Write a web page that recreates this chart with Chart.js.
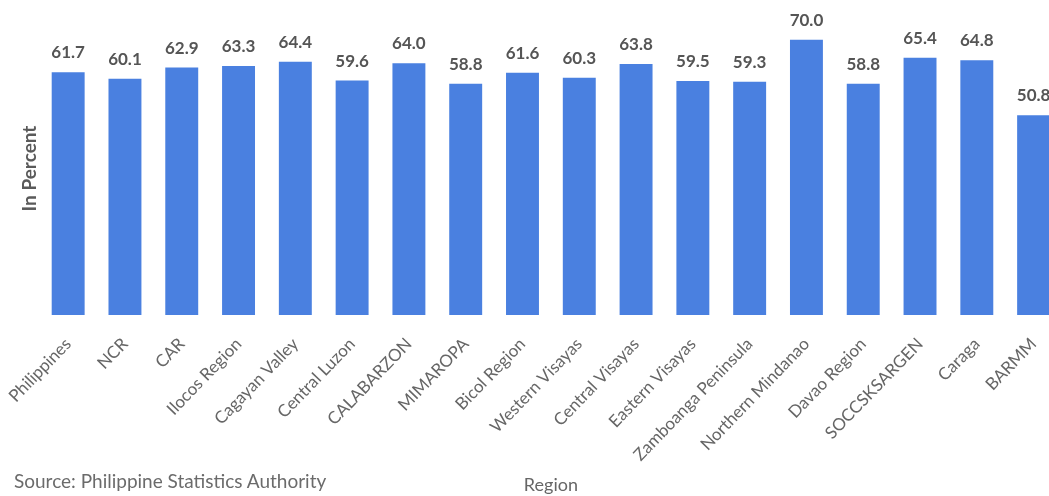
<!DOCTYPE html>
<html>
<head>
<meta charset="utf-8">
<script src="https://cdn.jsdelivr.net/npm/chart.js@4.4.1/dist/chart.umd.min.js"></script>
<style>
  html, body { margin: 0; padding: 0; background: #fff; overflow: hidden; width: 1049px; height: 496px; }
  #wrap { position: absolute; left: 0; top: 0; width: 1062px; height: 496px; }
  #source { position: absolute; left: 14px; top: 469px; font-family: Lato, "Open Sans", sans-serif; font-size: 19px; color: #6b6b6b; white-space: nowrap; }
</style>
</head>
<body>
<div id="wrap"><canvas id="c"></canvas></div>
<div id="source">Source: Philippine Statistics Authority</div>
<script>
const regions = ["Philippines", "NCR", "CAR", "Ilocos Region", "Cagayan Valley", "Central Luzon", "CALABARZON", "MIMAROPA", "Bicol Region", "Western Visayas", "Central Visayas", "Eastern Visayas", "Zamboanga Peninsula", "Northern Mindanao", "Davao Region", "SOCCSKSARGEN", "Caraga", "BARMM"];
const percentValues = [61.7, 60.1, 62.9, 63.3, 64.4, 59.6, 64.0, 58.8, 61.6, 60.3, 63.8, 59.5, 59.3, 70.0, 58.8, 65.4, 64.8, 50.8];
const yAxisTitle = "In Percent";
const xAxisTitle = "Region";

const FONT = "Lato, 'Open Sans', sans-serif";
const TEXT = "#666666";

const valueLabels = {
  id: "valueLabels",
  afterDatasetsDraw(chart) {
    const ctx = chart.ctx;
    const meta = chart.getDatasetMeta(0);
    ctx.save();
    ctx.font = "bold 17px " + FONT;
    ctx.fillStyle = "#555555";
    ctx.textAlign = "center";
    ctx.textBaseline = "alphabetic";
    meta.data.forEach((bar, i) => {
      ctx.fillText(percentValues[i].toFixed(1), bar.x, bar.y - 14);
    });
    ctx.restore();
  }
};

new Chart(document.getElementById("c"), {
  type: "bar",
  data: {
    labels: regions,
    datasets: [{
      data: percentValues,
      backgroundColor: "#4a80e0",
      borderWidth: 0,
      categoryPercentage: 1,
      barPercentage: 0.58
    }]
  },
  options: {
    responsive: true,
    maintainAspectRatio: false,
    animation: false,
    layout: { padding: { left: 0, right: 0, top: 22, bottom: 0 } },
    plugins: { legend: { display: false }, tooltip: { enabled: false } },
    scales: {
      x: {
        grid: { display: false },
        border: { display: false },
        ticks: {
          color: TEXT,
          font: { family: FONT, size: 17 },
          minRotation: 46,
          maxRotation: 46,
          autoSkip: false,
          padding: 11
        },
        title: {
          display: true,
          text: xAxisTitle,
          color: TEXT,
          font: { family: FONT, size: 18 },
          padding: { top: 0, bottom: 0 }
        },
        afterFit(scale) { scale.height = 496 - 315; }
      },
      y: {
        min: 0,
        max: 74.5,
        grid: { display: false },
        border: { display: false },
        ticks: { display: false },
        title: {
          display: true,
          text: yAxisTitle,
          color: "#5a5a5a",
          font: { family: FONT, size: 19, weight: "bold" },
          padding: { top: 17, bottom: 0 }
        },
        afterFit(scale) { scale.width = 38; }
      }
    }
  },
  plugins: [valueLabels]
});
</script>
</body>
</html>
